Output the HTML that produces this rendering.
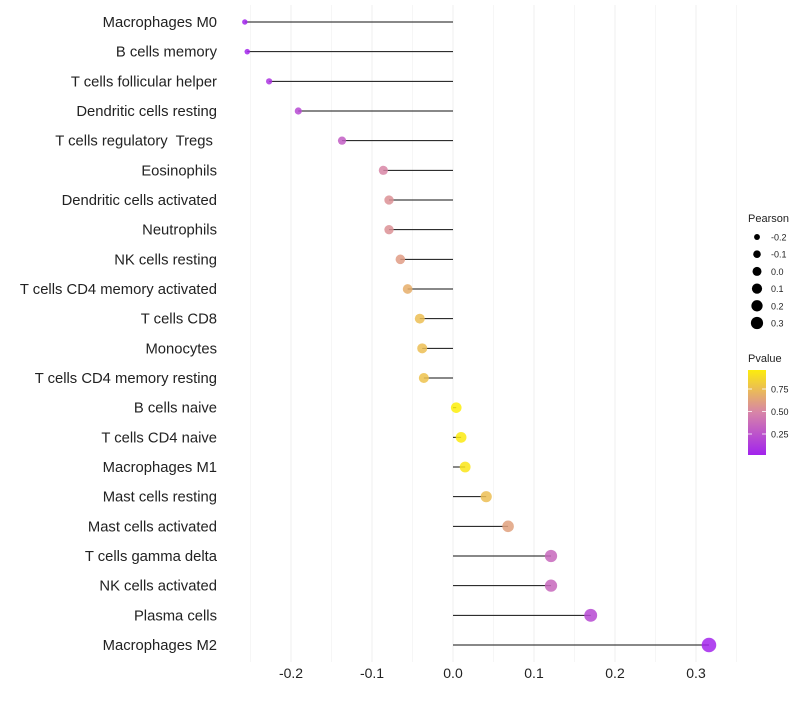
<!DOCTYPE html>
<html><head><meta charset="utf-8"><style>
body{margin:0;background:#fff;font-family:"Liberation Sans",sans-serif}
svg text{font-family:"Liberation Sans",sans-serif;white-space:pre}
</style></head><body>
<svg id="chart" width="800" height="700"></svg>
<script>
const categories=["Macrophages M0","B cells memory","T cells follicular helper","Dendritic cells resting","T cells regulatory  Tregs ","Eosinophils","Dendritic cells activated","Neutrophils","NK cells resting","T cells CD4 memory activated","T cells CD8","Monocytes","T cells CD4 memory resting","B cells naive","T cells CD4 naive","Macrophages M1","Mast cells resting","Mast cells activated","T cells gamma delta","NK cells activated","Plasma cells","Macrophages M2"];
const pearson=[-0.257,-0.254,-0.227,-0.191,-0.137,-0.086,-0.079,-0.079,-0.065,-0.056,-0.041,-0.038,-0.036,0.004,0.010,0.015,0.041,0.068,0.121,0.121,0.170,0.316];
const pvalues=[0.02,0.03,0.1,0.2,0.3,0.5,0.55,0.55,0.6,0.68,0.75,0.75,0.77,0.97,0.95,0.93,0.75,0.62,0.35,0.35,0.2,0.03];
const xTicks=[-0.2,-0.1,0.0,0.1,0.2,0.3];
const xTickLabels=["-0.2","-0.1","0.0","0.1","0.2","0.3"];
const sizeTicks=[-0.2,-0.1,0.0,0.1,0.2,0.3];
const pTicks=[0.25,0.5,0.75];

const NS="http://www.w3.org/2000/svg";
const svg=document.getElementById('chart');
function el(t,a,p){const e=document.createElementNS(NS,t);for(const k in a)e.setAttribute(k,a[k]);(p||svg).appendChild(e);return e;}
const xS=v=>453+v*810;
const yS=i=>22+i*(623/21);
const rS=v=>Math.sqrt(Math.max(28+v*80,3));
function lerp(a,b,t){return a.map((x,i)=>Math.round(x+(b[i]-x)*t));}
function col(p){const s=[[160,32,240],[216,134,166],[255,245,0]];let c=p<0.5?lerp(s[0],s[1],p/0.5):lerp(s[1],s[2],(p-0.5)/0.5);return `rgb(${c})`;}

for(let i=-5;i<=7;i++){
 const v=i*0.05;
 const g=el('line',{x1:xS(v),x2:xS(v),y1:5,y2:662,stroke:'#f0f0f0','stroke-width':Math.abs(i)%2===1?0.6:1.1});
 
}
xTicks.forEach((v,i)=>{
 const t=el('text',{x:xS(v),y:678,'text-anchor':'middle','font-size':14,fill:'#222'});t.textContent=xTickLabels[i];
 
});
categories.forEach((c,i)=>{
 const y=yS(i);
 const t=el('text',{x:217,y:y+5,'text-anchor':'end','font-size':14.8,fill:'#222'});t.textContent=c;
 
 const l=el('line',{x1:xS(0),x2:xS(pearson[i]),y1:y,y2:y,stroke:'#111','stroke-width':1});
 
 const d=el('circle',{cx:xS(pearson[i]),cy:y,r:rS(pearson[i]),fill:col(pvalues[i]),'fill-opacity':0.85});
 
});
const lt=el('text',{x:748,y:222,'font-size':11,fill:'#222'});lt.textContent='Pearson';

sizeTicks.forEach((v,i)=>{
 const y=237+i*17.2;
 const c=el('circle',{cx:757,cy:y,r:rS(v)*0.85,fill:'#000'});
 
 const t=el('text',{x:771,y:y+3.5,'font-size':9,fill:'#222'});t.textContent=v.toFixed(1);
 
});
const pt=el('text',{x:748,y:362,'font-size':11,fill:'#222'});pt.textContent='Pvalue';

const defs=el('defs',{});const gr=el('linearGradient',{id:'pg',x1:0,y1:1,x2:0,y2:0},defs);
[0,0.25,0.5,0.75,1].forEach(o=>el('stop',{offset:o,'stop-color':col(0.017+o*0.943)},gr));
const bar=el('rect',{x:748,y:370,width:18,height:85,fill:'url(#pg)'});

pTicks.forEach(p=>{
 const y=456.5-p*90;
 el('line',{x1:748,x2:752,y1:y,y2:y,stroke:'#fff','stroke-width':0.8});
 el('line',{x1:762,x2:766,y1:y,y2:y,stroke:'#fff','stroke-width':0.8});
 const t=el('text',{x:771,y:y+3.5,'font-size':9,fill:'#222'});t.textContent=p.toFixed(2);
 
});
</script>
</body></html>
